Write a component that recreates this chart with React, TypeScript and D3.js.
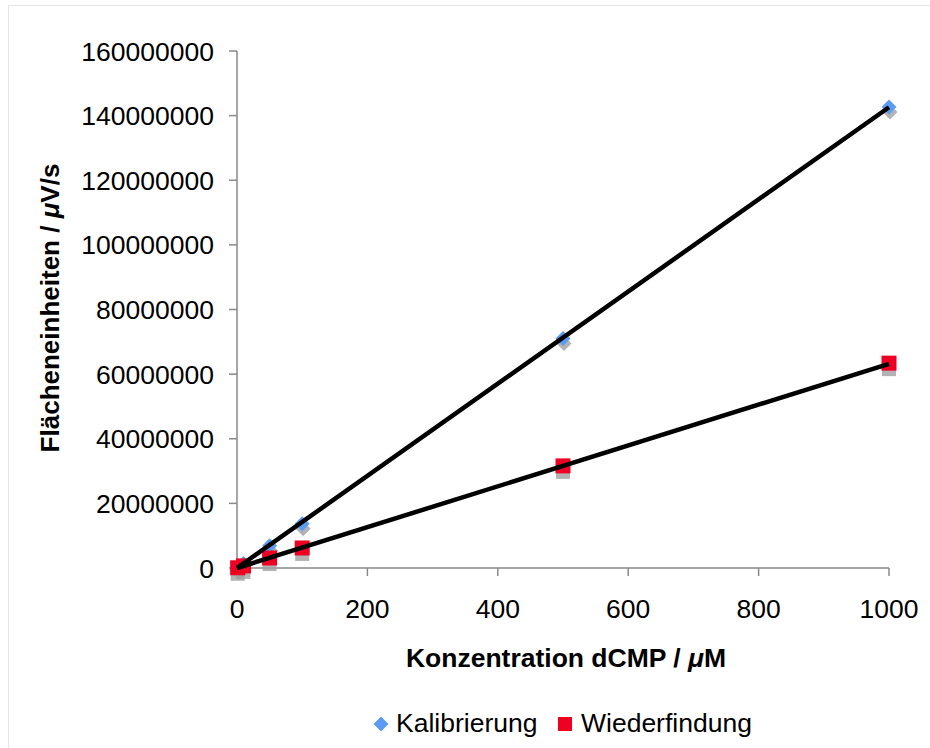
import React from "react";
import * as d3 from "d3";

const concentrations = [1, 10, 50, 100, 500, 1000];
const kalibrierung = [140000, 1400000, 6900000, 13700000, 71000000, 142700000];
const wiederfindung = [70000, 650000, 3100000, 6200000, 31600000, 63400000];
const kalTrend = { slope: 142600, intercept: 0 };
const wiedTrend = { slope: 63200, intercept: 0 };
const xTicks = [0, 200, 400, 600, 800, 1000];
const yTicks = [0, 20000000, 40000000, 60000000, 80000000, 100000000, 120000000, 140000000, 160000000];
const legendLabels = ["Kalibrierung", "Wiederfindung"];

const W = 930;
const H = 748;
const FONT = "'Liberation Sans', Arial, Helvetica, sans-serif";

export default function App() {
  const x = d3.scaleLinear().domain([0, 1000]).range([237, 889]);
  const y = d3.scaleLinear().domain([0, 160000000]).range([568, 51]);
  const axisColor = "#8a8a8a";
  const diamond = (cx: number, cy: number, r: number) =>
    `M${cx},${cy - r}L${cx + r},${cy}L${cx},${cy + r}L${cx - r},${cy}Z`;
  const trendPath = (t: { slope: number; intercept: number }) =>
    d3.line<number>().x((d) => x(d)).y((d) => y(t.intercept + t.slope * d))([0, 1000]) || "";

  return (
    <div style={{ position: "absolute", left: 0, top: 0 }}>
      <svg width={W} height={H} style={{ display: "block" }} fontFamily={FONT}>
        <rect x={0} y={0} width={W} height={H} fill="#fff" />
        <rect x={8.5} y={5.5} width={W + 10} height={H + 10} fill="none" stroke="#e6e6e6" strokeWidth={1} />

        {/* axes */}
        <line x1={x(0)} x2={x(0)} y1={y(160000000)} y2={y(0)} stroke={axisColor} strokeWidth={1.5} />
        <line x1={x(0)} x2={x(1000)} y1={y(0)} y2={y(0)} stroke={axisColor} strokeWidth={1.5} />
        {yTicks.map((t) => (
          <g key={"y" + t}>
            <line x1={x(0) - 8} x2={x(0)} y1={y(t)} y2={y(t)} stroke={axisColor} strokeWidth={1.5} />
            <text x={214} y={y(t)} dy="0.36em" textAnchor="end" fontSize={26.5} fill="#000">
              {t}
            </text>
          </g>
        ))}
        {xTicks.map((t) => (
          <g key={"x" + t}>
            <line x1={x(t)} x2={x(t)} y1={y(0)} y2={y(0) + 8} stroke={axisColor} strokeWidth={1.5} />
            <text x={x(t)} y={618} textAnchor="middle" fontSize={26.5} fill="#000">
              {t}
            </text>
          </g>
        ))}

        <text x={566} y={667} textAnchor="middle" fontSize={26.5} fontWeight="bold" fill="#000">
          Konzentration dCMP / <tspan fontStyle="italic">μ</tspan>M
        </text>
        <text
          transform={`translate(59,308) rotate(-90)`}
          textAnchor="middle"
          fontSize={26}
          fontWeight="bold"
          fill="#000"
        >
          Flächeneinheiten / <tspan fontStyle="italic">μ</tspan>V/s
        </text>

        {/* shadows */}
        {concentrations.map((c, i) => (
          <path key={"ks" + i} d={diamond(x(c) + 1, y(kalibrierung[i]) + 5, 7.5)} fill="#9a9a9a" opacity={0.75} />
        ))}
        {concentrations.map((c, i) => (
          <path key={"k" + i} d={diamond(x(c), y(kalibrierung[i]), 7.5)} fill="#5b9cf5" />
        ))}
        {concentrations.map((c, i) => (
          <rect key={"ws" + i} x={x(c) - 7} y={y(wiederfindung[i]) - 7 + 6} width={14} height={14} fill="#a0a0a0" opacity={0.8} />
        ))}
        {concentrations.map((c, i) => (
          <rect key={"w" + i} x={x(c) - 7.5} y={y(wiederfindung[i]) - 7.5} width={15} height={15} fill="#ee0022" />
        ))}

        {/* trend lines */}
        <path d={trendPath(kalTrend)} stroke="#000" strokeWidth={4.5} fill="none" />
        <path d={trendPath(wiedTrend)} stroke="#000" strokeWidth={4.5} fill="none" />

        {/* legend */}
        <path d={diamond(381, 724, 7.5)} fill="#5b9cf5" />
        <text x={396} y={731.5} fontSize={26.5} fill="#000">
          {legendLabels[0]}
        </text>
        <rect x={558} y={717} width={14} height={14} fill="#ee0022" />
        <text x={581} y={731.5} fontSize={26.5} fill="#000">
          {legendLabels[1]}
        </text>
      </svg>
    </div>
  );
}
